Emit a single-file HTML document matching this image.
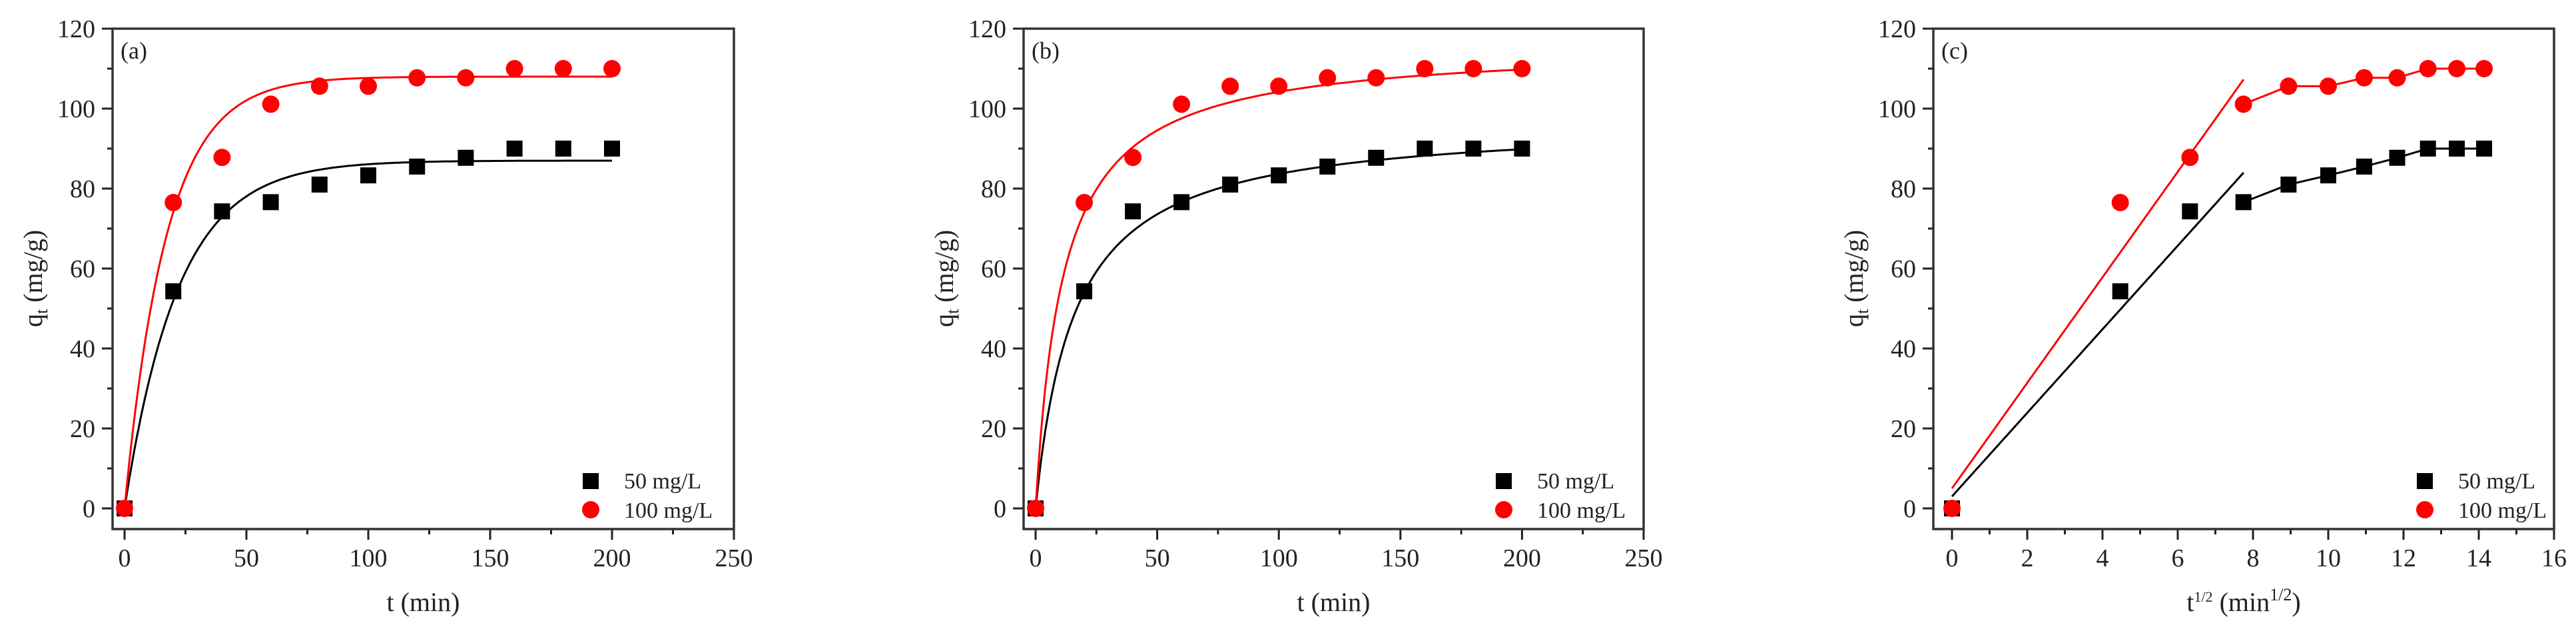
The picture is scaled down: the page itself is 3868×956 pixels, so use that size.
<!DOCTYPE html>
<html><head><meta charset="utf-8">
<style>
html,body{margin:0;padding:0;background:#fff;}
svg{display:block;font-family:"Liberation Serif",serif;}
</style></head>
<body>
<svg id="fig" width="3868" height="956" viewBox="0 0 3868 956" xmlns="http://www.w3.org/2000/svg"></svg>
<script>
// ---- data ----
const timeMin = [0,20,40,60,80,100,120,140,160,180,200];
const q50 = [0,54.3,74.3,76.6,81.0,83.3,85.5,87.7,90.0,90.0,90.0];
const q100 = [0,76.5,87.8,101.1,105.6,105.6,107.7,107.7,110.0,110.0,110.0];
// pseudo-first-order fit params [qe, k1]
const pfo50 = [87.0, 0.0455];
const pfo100 = [108.0, 0.058];
// pseudo-second-order fit params [qe, k2]
const pso50 = [97.0, 0.000647];
const pso100 = [116.0, 0.00076];
// intraparticle diffusion first stage lines [intercept, slope] over sqrt(t) 0..7.75
const ipd50 = [3.0, 10.45];
const ipd100 = [5.0, 13.2];
const ipdEnd = 7.75;
const yTicks = [0,20,40,60,80,100,120];
const xTicksT = [0,50,100,150,200,250];
const xTicksS = [0,2,4,6,8,10,12,14,16];
const seriesLabels = ["50 mg/L","100 mg/L"];

const NS = "http://www.w3.org/2000/svg";
const svg = document.getElementById('fig');
function el(tag, attrs, parent){
  const e = document.createElementNS(NS, tag);
  for (const k in attrs) e.setAttribute(k, attrs[k]);
  (parent||svg).appendChild(e);
  return e;
}
const TOP=43, BOT=794, Y0=763, YS=6;
function makePanel(id, left, right, x0px, xmax, xticks, minorStep, label, xTitleSqrt){
  const g = el('g', {});
  
  
  const xs = (right - x0px) / xmax;
  const X = v => x0px + v*xs;
  const Y = v => Y0 - v*YS;
  // ticks y
  for (let v=0; v<=120; v+=10){
    const major = v%20===0;
    const t = el('line',{x1:left-(major?16:8),x2:left,y1:Y(v),y2:Y(v),stroke:'#222','stroke-width':3},g);
    
    
  }
  yTicks.forEach(v=>{
    const t = el('text',{x:left-26,y:Y(v)+13,'text-anchor':'end','font-size':38,fill:'#222'},g);
    t.textContent = v;
    
    
  });
  for (let v=0; v<=xmax+1e-9; v+=minorStep){
    const major = xticks.some(m=>Math.abs(m-v)<1e-9);
    const t = el('line',{x1:X(v),x2:X(v),y1:BOT,y2:BOT+(major?16:8),stroke:'#222','stroke-width':3},g);
    
    
  }
  xticks.forEach(v=>{
    const t = el('text',{x:X(v),y:850,'text-anchor':'middle','font-size':38,fill:'#222'},g);
    t.textContent = v;
    
    
  });
  const frame = el('rect',{x:left,y:TOP,width:right-left,height:BOT-TOP,fill:'none',stroke:'#333','stroke-width':3.5},g);
  
  
  const pl = el('text',{x:left+12,y:88,'font-size':36,fill:'#222'},g);
  pl.textContent = '('+id+')';
  
  
  // y title
  const yt = el('text',{x:0,y:0,'font-size':40,fill:'#222','text-anchor':'middle',transform:'translate('+(left-106)+',418) rotate(-90)'},g);
  
  
  const a = el('tspan',{},yt); a.textContent='q';
  const b = el('tspan',{'font-size':26,dy:8},yt); b.textContent='t';
  const c = el('tspan',{dy:-8},yt); c.textContent=' (mg/g)';
  // x title
  const xt = el('text',{x:(left+right)/2,y:917,'font-size':40,fill:'#222','text-anchor':'middle'},g);
  
  
  if (xTitleSqrt){
    const s1 = el('tspan',{},xt); s1.textContent='t';
    const s2 = el('tspan',{'font-size':22,dy:-14},xt); s2.textContent='1/2';
    const s3 = el('tspan',{dy:14},xt); s3.textContent=' (min';
    const s4 = el('tspan',{'font-size':26,dy:-16},xt); s4.textContent='1/2';
    const s5 = el('tspan',{dy:16},xt); s5.textContent=')';
  } else xt.textContent = 't (min)';
  return {g,X,Y};
}
function curve(p, fn, xmax, color, name){
  let d='';
  for (let i=0;i<=200;i++){
    const v = xmax*i/200;
    d += (i?'L':'M')+p.X(v).toFixed(1)+','+p.Y(fn(v)).toFixed(1);
  }
  const c = el('path',{d:d,fill:'none',stroke:color,'stroke-width':3},p.g);
  
  
}
function points(p, xs, ys, kind, name){
  xs.forEach((x,i)=>{
    let m;
    if (kind==='sq') m = el('rect',{x:p.X(x)-12,y:p.Y(ys[i])-12,width:24,height:24,fill:'#000'},p.g);
    else m = el('circle',{cx:p.X(x),cy:p.Y(ys[i]),r:13,fill:'#ff0000'},p.g);
    
    
  });
}
function legend(p, mx, tx){
  const s = el('rect',{x:mx-12,y:722-12,width:24,height:24,fill:'#000'},p.g);
  
  
  const c = el('circle',{cx:mx,cy:765,r:13,fill:'#ff0000'},p.g);
  
  
  const t1 = el('text',{x:tx,y:733,'font-size':34,fill:'#222'},p.g);
  t1.textContent = seriesLabels[0];
  
  
  const t2 = el('text',{x:tx,y:777,'font-size':34,fill:'#222'},p.g);
  t2.textContent = seriesLabels[1];
  
  
}
// panel a
const pa = makePanel('a',169,1102,187,250,xTicksT,25,'a',false);
curve(pa, t=>pfo50[0]*(1-Math.exp(-pfo50[1]*t)), 200, '#000', 'pfo-fit-50');
curve(pa, t=>pfo100[0]*(1-Math.exp(-pfo100[1]*t)), 200, '#ff0000', 'pfo-fit-100');
points(pa, timeMin, q50, 'sq', 'point-50');
points(pa, timeMin, q100, 'ci', 'point-100');
legend(pa, 887, 937);
// panel b
const pb = makePanel('b',1537,2468,1555,250,xTicksT,25,'b',false);
curve(pb, t=>pso50[0]*pso50[0]*pso50[1]*t/(1+pso50[0]*pso50[1]*t), 200, '#000', 'pso-fit-50');
curve(pb, t=>pso100[0]*pso100[0]*pso100[1]*t/(1+pso100[0]*pso100[1]*t), 200, '#ff0000', 'pso-fit-100');
points(pb, timeMin, q50, 'sq', 'point-50');
points(pb, timeMin, q100, 'ci', 'point-100');
legend(pb, 2258, 2308);
// panel c
const pc = makePanel('c',2903,3835,2931,16,xTicksS,1,'c',true);
const sq = timeMin.map(t=>Math.sqrt(t));
curve(pc, s=>ipd50[0]+ipd50[1]*s, ipdEnd, '#000', 'ipd-stage1-50');
curve(pc, s=>ipd100[0]+ipd100[1]*s, ipdEnd, '#ff0000', 'ipd-stage1-100');
function poly(p, xs, ys, color, name){
  let d='';
  xs.forEach((x,i)=>{ d += (i?'L':'M')+p.X(x).toFixed(1)+','+p.Y(ys[i]).toFixed(1); });
  const c = el('path',{d:d,fill:'none',stroke:color,'stroke-width':3},p.g);
  
  
}
poly(pc, sq.slice(3), q50.slice(3), '#000', 'ipd-stage2-50');
poly(pc, sq.slice(3), q100.slice(3), '#ff0000', 'ipd-stage2-100');
points(pc, sq, q50, 'sq', 'point-50');
points(pc, sq, q100, 'ci', 'point-100');
legend(pc, 3641, 3691);
</script>
</body></html>
